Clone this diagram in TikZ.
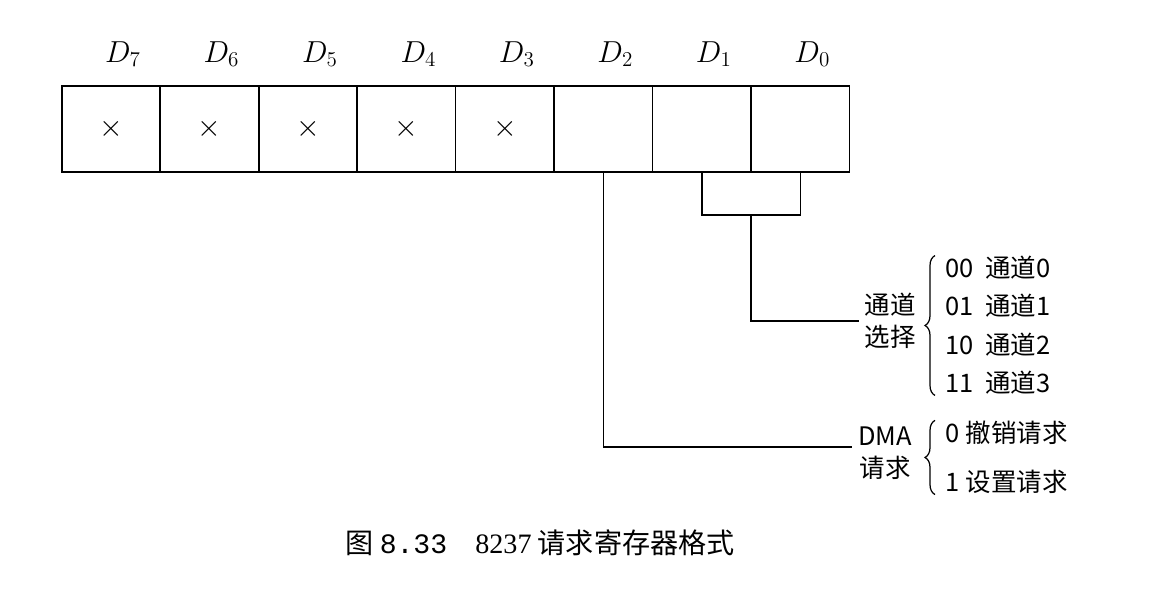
\documentclass[tikz,border=0pt]{standalone}
\usepackage{fontspec}
\setmainfont{Liberation Serif}
\setmonofont{Liberation Mono}
\newfontfamily\cjk{Noto Sans CJK SC}
\usetikzlibrary{positioning,calc,decorations.pathreplacing}

\begin{document}
\begin{tikzpicture}[x=0.02cm,y=-0.02cm,line width=0.9pt,
    cell/.style={draw,minimum width=1.97cm,minimum height=1.72cm,inner sep=0pt,outer sep=0pt,font=\fontsize{16}{18}\selectfont},
    bit/.style={font=\fontsize{17}{20}\selectfont},
    txt/.style={font=\cjk\fontsize{14.5}{18}\selectfont,align=center,inner sep=0.1cm},
    opt/.style={font=\cjk\fontsize{14.5}{18}\selectfont,anchor=west,inner sep=0pt},
    brc/.style={decorate,decoration={brace,amplitude=0.2cm},line width=0.7pt}]
  \useasboundingbox (0,0) rectangle (1166,594);
  % register cells
  \node [cell] (c7) at (111,129) {$\times$};
  \node [cell] (c6) [right=0pt of c7] {$\times$};
  \node [cell] (c5) [right=0pt of c6] {$\times$};
  \node [cell] (c4) [right=0pt of c5] {$\times$};
  \node [cell] (c3) [right=0pt of c4] {$\times$};
  \node [cell] (c2) [right=0pt of c3] {};
  \node [cell] (c1) [right=0pt of c2] {};
  \node [cell] (c0) [right=0pt of c1] {};
  % bit names
  \node [bit] (d7) [above=0.25cm of c7, xshift=0.24cm] {$D_7$};
  \node [bit] (d6) [above=0.25cm of c6, xshift=0.24cm] {$D_6$};
  \node [bit] (d5) [above=0.25cm of c5, xshift=0.24cm] {$D_5$};
  \node [bit] (d4) [above=0.25cm of c4, xshift=0.24cm] {$D_4$};
  \node [bit] (d3) [above=0.25cm of c3, xshift=0.24cm] {$D_3$};
  \node [bit] (d2) [above=0.25cm of c2, xshift=0.24cm] {$D_2$};
  \node [bit] (d1) [above=0.25cm of c1, xshift=0.24cm] {$D_1$};
  \node [bit] (d0) [above=0.25cm of c0, xshift=0.24cm] {$D_0$};
  % channel select
  \node [txt] (sel) at (890,321) {通道\\选择};
  \node [opt] (s0) at (945,268) {00\ \ 通道0};
  \node [opt] (s1) at (945,306) {01\ \ 通道1};
  \node [opt] (s2) at (945,345) {10\ \ 通道2};
  \node [opt] (s3) at (945,383) {11\ \ 通道3};
  \draw [brc] ([xshift=-0.2cm]s3.south west) -- ([xshift=-0.2cm]s0.north west);
  % dma request
  \node [txt] (dma) at (885,453) {DMA\\请求};
  \node [opt] (r0) at (945,433) {0 撤销请求};
  \node [opt] (r1) at (945,482) {1 设置请求};
  \draw [brc] ([xshift=-0.2cm]r1.south west) -- ([xshift=-0.2cm]r0.north west);
  % connectors
  \coordinate (pair) at ($(c1.south)!0.5!(c0.south)+(0,43)$);
  \draw (c1.south) -- ++(0,43) -| (c0.south);
  \draw (pair) |- (sel.west);
  \draw (c2.south) |- ([yshift=0.12cm]dma.west);
  % caption
  \node [font=\cjk\fontsize{16}{18}\selectfont] (cap) at (540,543) {图 {\ttfamily 8.33}\quad {\rmfamily 8237} 请求寄存器格式};
\end{tikzpicture}
\end{document}
